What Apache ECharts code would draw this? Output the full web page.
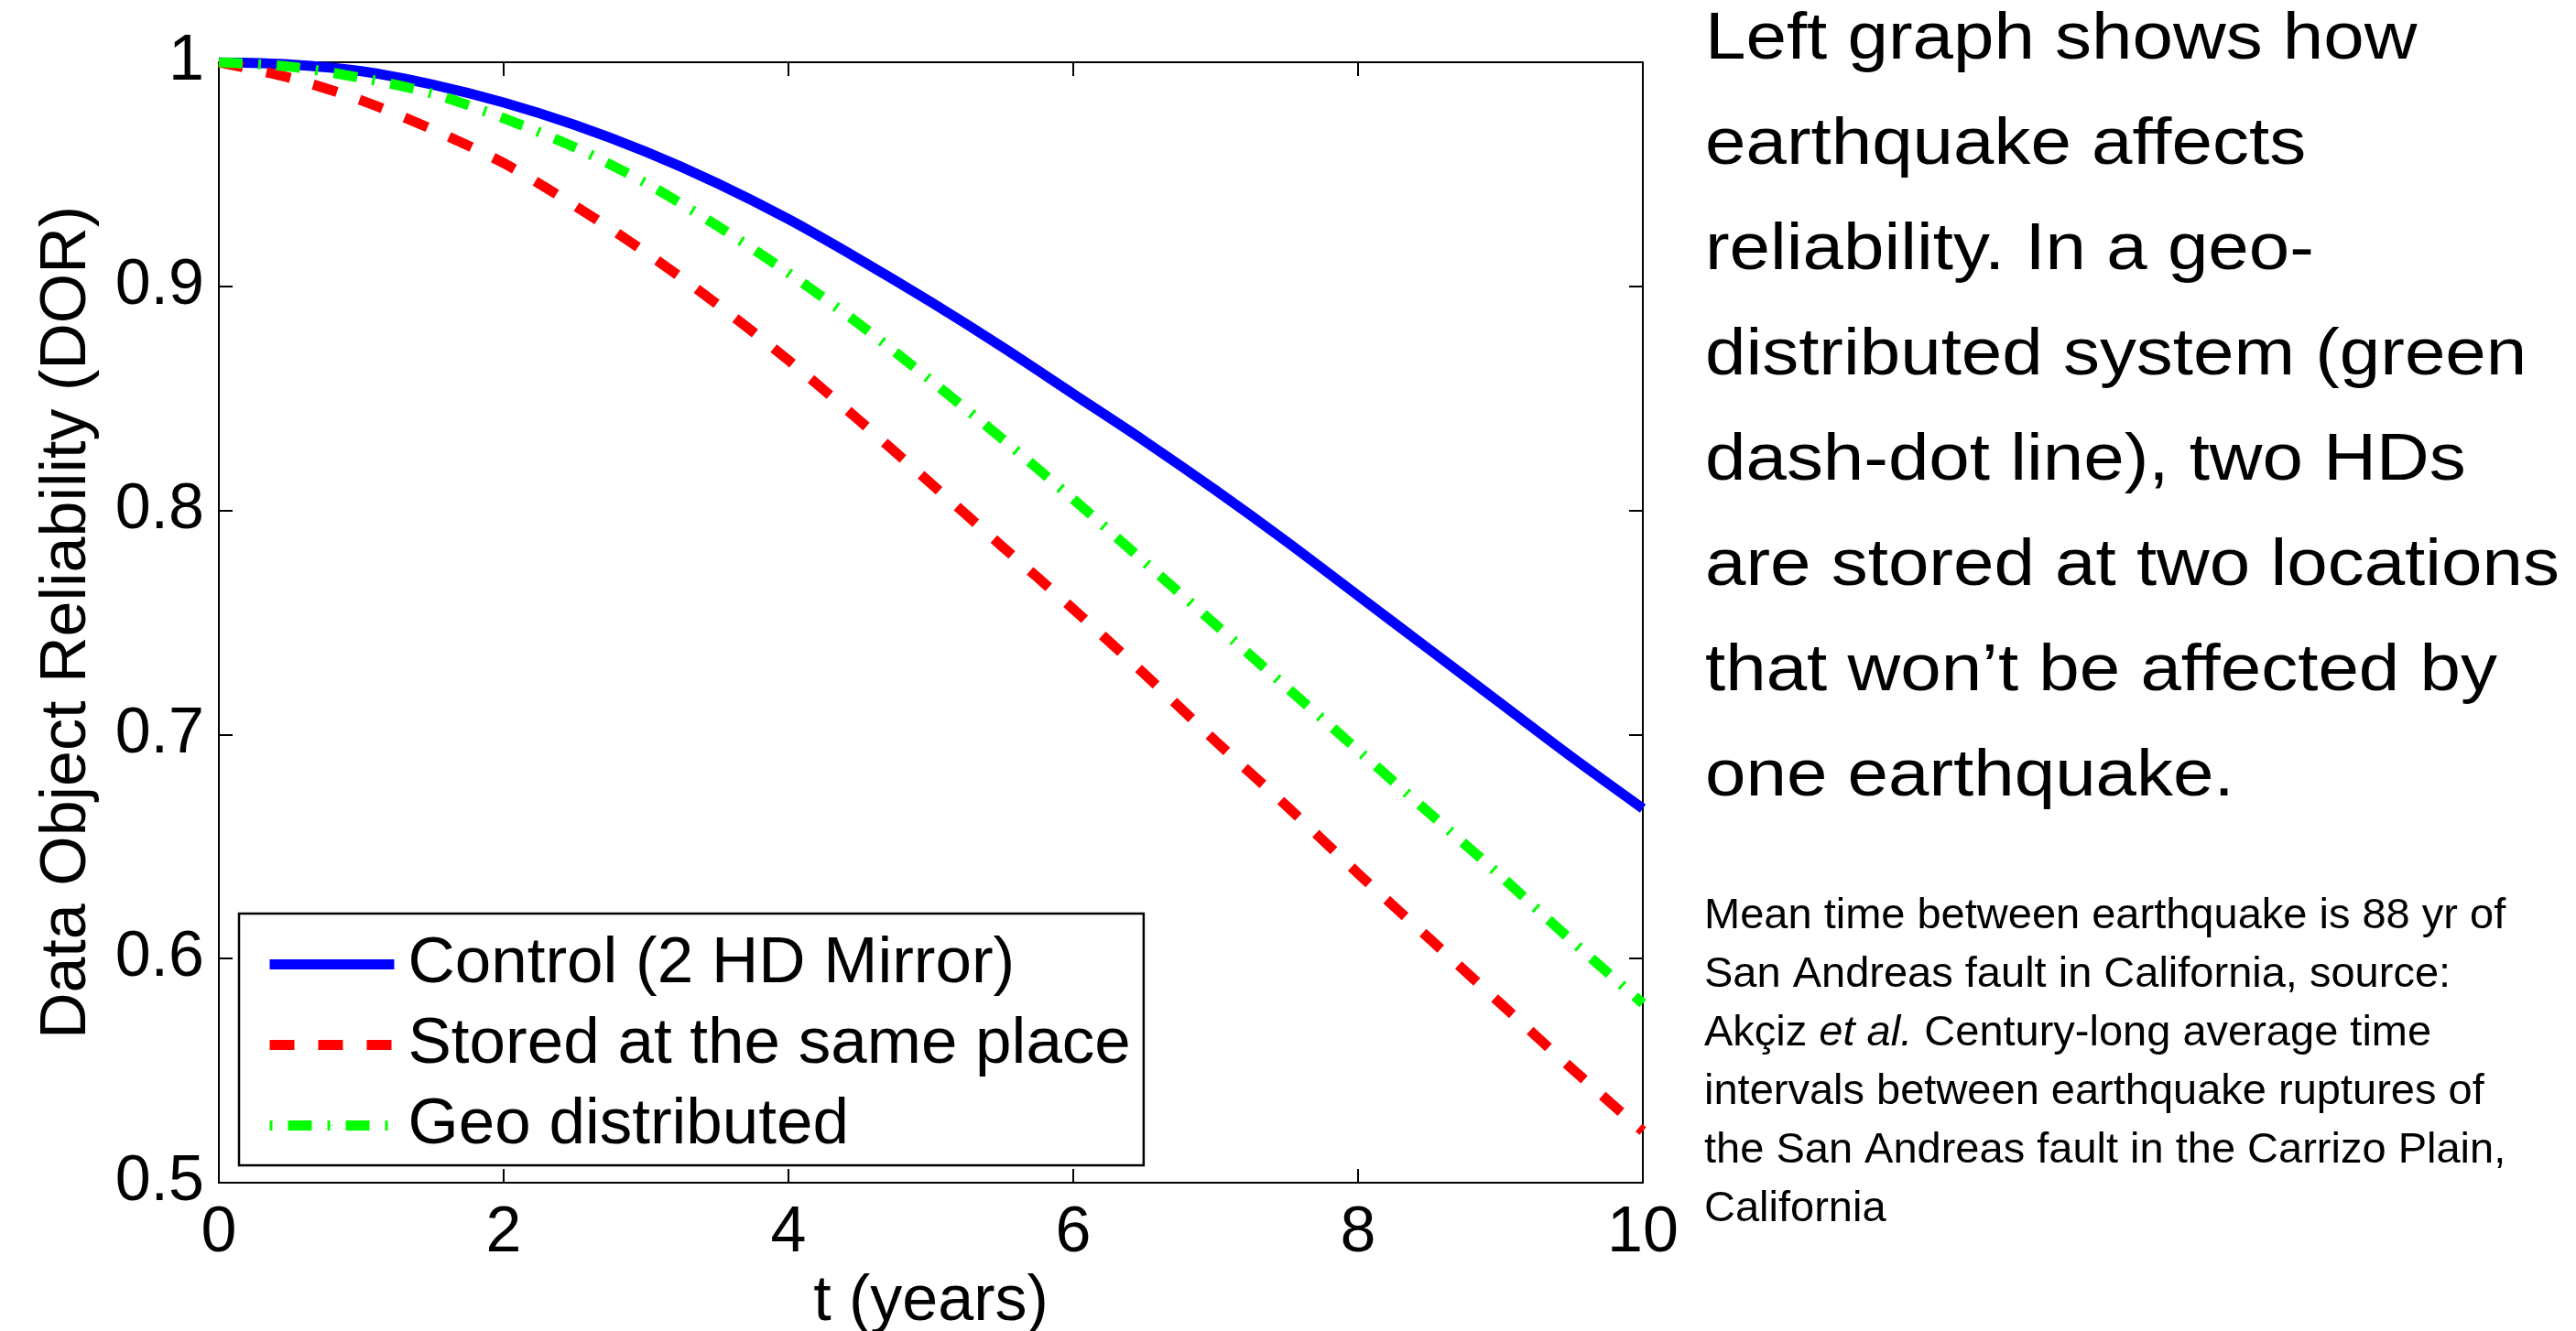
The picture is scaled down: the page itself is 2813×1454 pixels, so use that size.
<!DOCTYPE html>
<html>
<head>
<meta charset="utf-8">
<script src="https://cdn.jsdelivr.net/npm/echarts@6/dist/echarts.min.js"></script>
<style>
html,body{margin:0;padding:0;background:#fff;}
#chart{width:2813px;height:1454px;}
</style>
</head>
<body>
<div id="chart"></div>
<script>
// ---- data ----
const tYears = [0, 0.5, 1, 1.5, 2, 2.5, 3, 3.5, 4, 4.5, 5, 5.5, 6, 6.5, 7, 7.5, 8, 8.5, 9, 9.5, 10];
const controlMirror = [1.000, 0.999, 0.996, 0.990, 0.982, 0.972, 0.960, 0.946, 0.930, 0.912, 0.893, 0.873, 0.852, 0.831, 0.809, 0.786, 0.762, 0.738, 0.714, 0.690, 0.667];
const samePlace = [1.000, 0.993, 0.983, 0.970, 0.955, 0.936, 0.915, 0.892, 0.867, 0.840, 0.812, 0.784, 0.756, 0.727, 0.697, 0.668, 0.638, 0.609, 0.580, 0.551, 0.523];
const geoDistributed = [1.000, 0.998, 0.993, 0.986, 0.975, 0.962, 0.946, 0.927, 0.906, 0.883, 0.858, 0.832, 0.805, 0.777, 0.749, 0.721, 0.693, 0.665, 0.637, 0.608, 0.580];
const seriesNames = ['Control (2 HD Mirror)', 'Stored at the same place', 'Geo distributed'];
const xTicks = [0, 2, 4, 6, 8, 10];
const yTicks = [0.5, 0.6, 0.7, 0.8, 0.9, 1];
const xAxisName = 't (years)';
const yAxisName = 'Data Object Reliability (DOR)';
const bigNoteLines = [
  'Left graph shows how',
  'earthquake affects',
  'reliability. In a geo-',
  'distributed system (green',
  'dash-dot line), two HDs',
  'are stored at two locations',
  'that won\u2019t be affected by',
  'one earthquake.'
];
const smallNoteLines = [
  'Mean time between earthquake is 88 yr of',
  'San Andreas fault in California, source:',
  'Ak\u00e7iz {i|et al.} Century-long average time',
  'intervals between earthquake ruptures of',
  'the San Andreas fault in the Carrizo Plain,',
  'California'
];

const FONT = '"Liberation Sans", Arial, Helvetica, sans-serif';
const pair = (xs, ys) => xs.map((x, i) => [x, ys[i]]);

const chart = echarts.init(document.getElementById('chart'), null, {renderer: 'canvas'});

const axisCommon = {
  type: 'value',
  axisLine: {show: true, onZero: false, lineStyle: {color: '#000', width: 2}},
  axisTick: {show: true, inside: true, length: 15, lineStyle: {color: '#000', width: 2}},
  splitLine: {show: false}
};

const LW = 11;
const greenDash = [26, 17, 3, 17];

const option = {
  backgroundColor: '#fff',
  animation: false,
  grid: {left: 239, top: 68, width: 1555, height: 1224, containLabel: false, outerBoundsMode: 'none'},
  xAxis: [
    Object.assign({}, axisCommon, {
      position: 'bottom', min: xTicks[0], max: xTicks[xTicks.length - 1], interval: xTicks[1] - xTicks[0],
      axisLabel: {show: true, color: '#000', fontSize: 70, fontFamily: FONT, margin: 21},
      name: xAxisName, nameLocation: 'middle', nameGap: 96,
      nameTextStyle: {color: '#000', fontSize: 70, fontFamily: FONT}
    }),
    Object.assign({}, axisCommon, {
      position: 'top', min: xTicks[0], max: xTicks[xTicks.length - 1], interval: xTicks[1] - xTicks[0],
      axisLabel: {show: false}
    })
  ],
  yAxis: [
    Object.assign({}, axisCommon, {
      position: 'left', min: yTicks[0], max: yTicks[yTicks.length - 1], interval: 0.1,
      axisLabel: {show: true, color: '#000', fontSize: 70, fontFamily: FONT, margin: 16,
        formatter: v => String(+(+v).toFixed(1))},
      name: yAxisName, nameLocation: 'middle', nameGap: 130, nameRotate: 90,
      nameTextStyle: {color: '#000', fontSize: 70, fontFamily: FONT}
    }),
    Object.assign({}, axisCommon, {
      position: 'right', min: yTicks[0], max: yTicks[yTicks.length - 1], interval: 0.1,
      axisLabel: {show: false}
    })
  ],
  legend: {
    orient: 'vertical',
    left: 261, top: 998,
    padding: [20, 14, 8, 28],
    itemGap: 17,
    itemWidth: 136, itemHeight: 2,
    backgroundColor: '#fff',
    borderColor: '#000', borderWidth: 2.5, borderRadius: 0,
    lineStyle: {width: LW, type: 'inherit', color: 'inherit'},
    textStyle: {color: '#000', fontSize: 71, fontFamily: FONT, padding: [0, 0, 0, 10]},
    data: [
      {name: seriesNames[0]},
      {name: seriesNames[1]},
      {name: seriesNames[2], lineStyle: {width: LW, type: [3, 17, 26, 17], color: '#00ff00'}}
    ]
  },
  series: [
    {
      name: seriesNames[0], type: 'line', xAxisIndex: 0, yAxisIndex: 0,
      data: pair(tYears, controlMirror), showSymbol: false, symbol: 'none', smooth: 0.3,
      lineStyle: {color: '#0000ff', width: LW, type: 'solid', cap: 'butt'},
      itemStyle: {color: '#0000ff'}
    },
    {
      name: seriesNames[1], type: 'line', xAxisIndex: 0, yAxisIndex: 0,
      data: pair(tYears, samePlace), showSymbol: false, symbol: 'none', smooth: 0.3,
      lineStyle: {color: '#ff0000', width: LW, type: [27, 26], cap: 'butt'},
      itemStyle: {color: '#ff0000'}
    },
    {
      name: seriesNames[2], type: 'line', xAxisIndex: 0, yAxisIndex: 0,
      data: pair(tYears, geoDistributed), showSymbol: false, symbol: 'none', smooth: 0.3,
      lineStyle: {color: '#00ff00', width: LW, type: greenDash, cap: 'butt'},
      itemStyle: {color: '#00ff00'}
    }
  ],
  graphic: [
    {
      type: 'text', x: 1862, y: -13, scaleX: 1.11, scaleY: 1, silent: true,
      style: {x: 0, y: 0, text: bigNoteLines.join('\n'), fill: '#000', fontSize: 72, fontFamily: FONT, lineHeight: 115}
    },
    {
      type: 'text', left: 1861, top: 969, silent: true,
      style: {
        text: smallNoteLines.join('\n'), fill: '#000', fontSize: 47, fontFamily: FONT, lineHeight: 64,
        rich: {i: {fontStyle: 'italic', fontSize: 47, fontFamily: FONT, lineHeight: 64, fill: '#000'}}
      }
    }
  ]
};
chart.setOption(option);
</script>
</body>
</html>
